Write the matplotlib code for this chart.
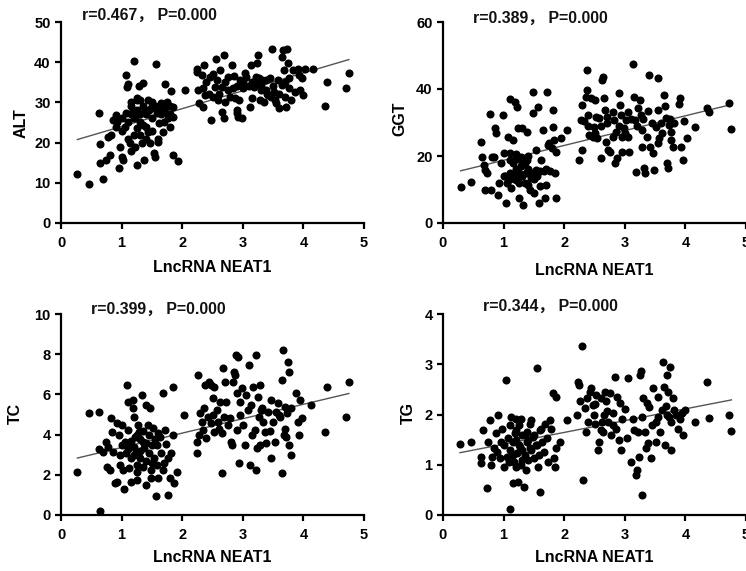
import numpy as np
import matplotlib
matplotlib.use("Agg")
import matplotlib.pyplot as plt

# ---------------- data ----------------
alt_x = [0.27, 0.47, 0.62, 0.65, 0.64, 0.69, 0.74, 0.81, 0.78, 0.82, 0.86, 0.91, 0.93, 0.96, 0.98,
         1.00, 1.03, 1.05, 1.07, 1.09, 1.10, 1.08, 1.10, 1.14, 1.15, 1.16, 1.21, 1.19, 1.22, 1.25,
         1.25, 1.22, 1.26, 1.29, 1.33, 1.36, 1.37, 1.39, 1.41, 1.43, 1.44, 1.47, 1.49, 1.54, 1.55,
         1.57, 1.58, 1.60, 1.62, 1.65, 1.69, 1.71, 1.74, 1.77, 1.80, 1.82, 1.84, 1.84, 1.85, 1.93,
         2.04,
         1.10, 1.15, 1.20, 1.25, 1.30, 1.30, 1.35, 1.40, 1.45, 1.50, 1.55, 1.60, 1.65, 1.70, 1.75,
         1.80, 1.20, 1.30, 1.40, 1.50, 1.60, 1.70, 1.00, 0.90, 1.15, 1.30, 1.50, 1.70, 1.80, 1.35,
         1.25, 1.00,
         2.24, 2.25, 2.26, 2.28, 2.32, 2.35, 2.36, 2.37, 2.40, 2.46, 2.48, 2.51, 2.54, 2.56, 2.58,
         2.59, 2.62, 2.65, 2.66, 2.69, 2.69, 2.70, 2.76, 2.79, 2.83, 2.84, 2.87, 2.90, 2.91, 2.92,
         2.94, 2.95, 2.98, 3.01, 3.03, 3.06, 3.12, 3.13, 3.16, 3.18, 3.21, 3.24, 3.25, 3.27, 3.28,
         3.30, 3.32, 3.35, 3.38, 3.39, 3.42, 3.46, 3.49, 3.51, 3.53, 3.55, 3.58, 3.60, 3.64, 3.65,
         3.66, 3.68, 3.70, 3.71, 3.73, 3.74, 3.76, 3.77, 3.79, 3.83, 3.86, 3.91, 3.93, 3.95, 3.97,
         4.00, 4.02, 4.16, 4.35, 4.39, 4.71, 4.75,
         2.45, 2.60, 2.75, 2.90, 3.00, 3.10, 3.20, 3.30, 3.40, 3.50, 3.60, 3.70, 2.50, 2.70, 3.15,
         3.45, 2.35, 2.85]
alt_y = [12.2, 9.8, 27.4, 19.7, 14.9, 11.0, 15.7, 16.8, 21.5, 21.9, 25.6, 26.9, 25.0, 13.6, 19.0,
         16.5, 15.7, 24.0, 36.8, 33.9, 34.5, 27.3, 21.0, 19.8, 30.2, 17.8, 40.2, 28.1, 26.4, 30.6,
         23.6, 19.0, 14.5, 34.0, 19.8, 34.9, 15.7, 28.1, 24.0, 30.6, 22.7, 19.8, 28.5, 17.4, 16.5,
         39.5, 27.3, 20.2, 24.8, 29.8, 22.7, 34.5, 28.9, 26.0, 24.0, 32.9, 28.9, 16.9, 26.4, 15.5,
         33.2,
         25.0, 27.0, 26.0, 28.0, 27.0, 25.0, 29.0, 27.0, 28.0, 26.0, 29.0, 28.0, 27.0, 29.0, 30.0,
         29.0, 22.0, 22.0, 21.0, 23.0, 21.0, 25.0, 23.0, 24.0, 29.0, 30.5, 30.0, 27.5, 27.0, 24.5,
         31.0, 26.0,
         38.4, 37.6, 33.0, 29.8, 36.8, 28.9, 39.3, 31.8, 35.1, 36.4, 25.6, 31.4, 33.9, 40.9, 35.5,
         30.6, 38.0, 27.7, 33.9, 41.9, 26.0, 35.1, 36.4, 31.4, 39.3, 33.5, 31.0, 28.1, 27.3, 26.4,
         30.6, 35.5, 26.0, 33.5, 37.2, 36.4, 28.9, 39.3, 35.1, 33.9, 36.4, 39.7, 41.7, 36.0, 30.6,
         34.3, 35.5, 30.2, 33.0, 35.5, 31.8, 31.4, 43.4, 32.6, 30.6, 29.8, 35.5, 28.5, 34.3, 41.3,
         43.0, 38.0, 31.4, 28.9, 43.4, 39.7, 33.5, 36.0, 30.6, 38.0, 32.6, 38.4, 36.8, 33.0, 36.0,
         31.8, 38.4, 38.4, 29.0, 35.1, 33.5, 37.4,
         32.0, 32.0, 33.0, 34.0, 35.0, 34.0, 35.0, 33.0, 32.0, 34.0, 32.0, 35.0, 37.0, 30.0, 31.0,
         36.0, 33.5, 36.5]

ggt_x = [0.29, 0.47, 0.63, 0.65, 0.67, 0.69, 0.72, 0.69, 0.77, 0.80, 0.81, 0.84, 0.85, 0.88, 0.91,
         0.93, 0.96, 0.99, 1.00, 1.02, 1.04, 1.05, 1.07, 1.10, 1.10, 1.11, 1.13, 1.15, 1.16, 1.18,
         1.20, 1.21, 1.22, 1.24, 1.26, 1.28, 1.29, 1.31, 1.32, 1.35, 1.37, 1.38, 1.39, 1.40, 1.43,
         1.45, 1.48, 1.49, 1.50, 1.53, 1.54, 1.57, 1.59, 1.60, 1.62, 1.65, 1.66, 1.68, 1.70, 1.72,
         1.73, 1.76, 1.81, 1.82, 1.83, 1.84, 1.86, 1.87, 1.94, 2.05,
         1.10, 1.15, 1.20, 1.25, 1.30, 1.35, 1.40, 1.45, 1.50, 1.55, 1.30, 1.20, 1.40, 1.60, 1.70,
         1.75, 1.80, 1.00, 1.10, 1.25,
         2.25, 2.27, 2.29, 2.30, 2.32, 2.36, 2.37, 2.38, 2.40, 2.41, 2.45, 2.47, 2.49, 2.51, 2.52,
         2.54, 2.58, 2.60, 2.62, 2.64, 2.65, 2.67, 2.69, 2.71, 2.73, 2.75, 2.80, 2.82, 2.84, 2.85,
         2.87, 2.91, 2.92, 2.93, 2.95, 2.96, 2.98, 3.02, 3.06, 3.07, 3.14, 3.15, 3.17, 3.19, 3.22,
         3.25, 3.26, 3.28, 3.29, 3.31, 3.33, 3.36, 3.39, 3.40, 3.42, 3.46, 3.48, 3.51, 3.54, 3.55,
         3.57, 3.61, 3.65, 3.66, 3.68, 3.70, 3.71, 3.73, 3.76, 3.77, 3.79, 3.81, 3.90, 3.91, 3.92,
         3.96, 3.98, 4.02, 4.16, 4.35, 4.39, 4.72, 4.76,
         2.50, 2.60, 2.70, 2.90, 3.00, 3.10, 3.20, 3.30, 3.45, 3.60, 3.75, 2.40, 2.80, 3.05, 3.55]
ggt_y = [10.7, 12.2, 24.3, 19.8, 17.4, 15.9, 14.9, 9.9, 32.4, 9.9, 19.8, 19.8, 28.3, 26.8, 8.4,
         11.9, 17.9, 32.2, 20.8, 13.9, 6.0, 11.9, 25.8, 36.9, 18.8, 14.9, 10.4, 17.9, 24.8, 36.2,
         20.6, 12.9, 34.5, 28.3, 7.4, 16.9, 19.8, 28.3, 5.5, 17.9, 14.9, 27.3, 18.8, 11.4, 9.9,
         13.4, 32.7, 39.2, 8.9, 21.8, 15.9, 34.7, 6.0, 10.9, 18.8, 27.8, 15.4, 7.4, 11.4, 39.2,
         23.3, 15.4, 33.7, 28.8, 24.8, 14.9, 7.4, 21.3, 25.3, 27.8,
         13.0, 14.0, 16.0, 15.0, 14.0, 12.0, 16.0, 15.0, 13.0, 14.0, 18.0, 19.0, 20.0, 15.5, 16.0,
         24.0, 22.5, 14.0, 21.0, 12.0,
         18.8, 30.8, 21.8, 35.2, 30.3, 37.7, 45.6, 39.7, 32.2, 26.3, 37.2, 25.8, 28.8, 36.7, 31.7,
         25.3, 31.2, 19.3, 42.7, 43.7, 37.2, 33.7, 24.3, 31.7, 21.8, 21.3, 25.8, 30.8, 17.9, 27.3,
         19.3, 38.7, 35.2, 32.2, 25.8, 21.3, 28.3, 30.8, 25.8, 21.3, 47.6, 37.7, 30.8, 15.1, 34.2,
         36.7, 32.2, 27.8, 22.8, 16.4, 14.9, 25.8, 33.4, 44.1, 22.8, 20.8, 15.9, 28.8, 43.2, 33.7,
         25.3, 26.8, 38.2, 34.9, 31.2, 17.9, 16.4, 29.3, 27.3, 24.8, 22.8, 29.8, 35.5, 37.2, 22.8,
         18.8, 30.3, 25.3, 28.6, 34.2, 33.2, 35.9, 28.2,
         27.0, 29.0, 30.0, 29.0, 27.0, 31.0, 29.0, 31.0, 30.0, 30.0, 31.0, 29.0, 33.0, 33.0, 24.0]

tc_x = [0.27, 0.46, 0.63, 0.62, 0.64, 0.70, 0.74, 0.76, 0.78, 0.81, 0.82, 0.84, 0.86, 0.89, 0.92,
        0.93, 0.95, 0.97, 0.98, 1.00, 1.02, 1.04, 1.05, 1.07, 1.09, 1.10, 1.11, 1.13, 1.14, 1.15,
        1.16, 1.18, 1.19, 1.20, 1.22, 1.24, 1.25, 1.26, 1.27, 1.29, 1.30, 1.33, 1.35, 1.36, 1.37,
        1.40, 1.41, 1.43, 1.45, 1.47, 1.48, 1.49, 1.52, 1.53, 1.56, 1.58, 1.59, 1.60, 1.63, 1.65,
        1.68, 1.69, 1.71, 1.74, 1.76, 1.77, 1.80, 1.82, 1.84, 1.85, 1.86, 1.92, 2.03,
        1.15, 1.20, 1.25, 1.30, 1.35, 1.40, 1.45, 1.50, 1.55, 1.20, 1.30, 1.40, 1.50, 1.10, 1.00,
        1.60, 1.70, 1.25,
        2.24, 2.25, 2.26, 2.27, 2.29, 2.32, 2.34, 2.36, 2.37, 2.40, 2.43, 2.45, 2.47, 2.48, 2.51,
        2.52, 2.53, 2.57, 2.59, 2.62, 2.65, 2.66, 2.68, 2.69, 2.70, 2.73, 2.79, 2.81, 2.82, 2.84,
        2.85, 2.87, 2.88, 2.90, 2.91, 2.92, 2.94, 2.95, 2.96, 2.98, 3.03, 3.05, 3.09, 3.10, 3.12,
        3.14, 3.17, 3.20, 3.21, 3.22, 3.24, 3.25, 3.27, 3.28, 3.29, 3.31, 3.34, 3.36, 3.38, 3.42,
        3.46, 3.47, 3.50, 3.53, 3.54, 3.58, 3.61, 3.64, 3.65, 3.66, 3.68, 3.69, 3.71, 3.73, 3.75,
        3.76, 3.77, 3.79, 3.80, 3.88, 3.91, 3.93, 3.95, 3.98, 4.13, 4.35, 4.39, 4.71, 4.75,
        2.60, 2.75, 3.00, 3.15, 3.30, 3.45, 2.50, 3.60, 3.70]
tc_y = [2.12, 5.06, 5.14, 3.28, 0.22, 3.15, 3.65, 2.40, 3.40, 2.24, 4.81, 4.15, 3.15, 1.58, 4.56,
        1.66, 3.98, 2.99, 2.49, 4.48, 2.24, 1.29, 3.65, 3.07, 6.47, 5.64, 4.23, 2.32, 3.48, 2.82,
        1.66, 5.31, 5.72, 4.89, 3.90, 3.15, 2.16, 1.74, 4.48, 4.15, 2.82, 5.97, 3.65, 2.40, 3.32,
        5.47, 1.49, 4.48, 3.07, 5.31, 2.24, 1.82, 4.31, 2.82, 0.95, 3.48, 2.49, 1.82, 3.90, 3.07,
        6.05, 2.24, 4.23, 3.52, 1.00, 2.82, 1.82, 3.07, 3.98, 6.38, 1.58, 2.16, 5.00,
        3.70, 3.40, 4.00, 3.80, 4.20, 3.60, 4.00, 3.50, 3.80, 3.00, 3.20, 2.70, 2.60, 3.30, 3.50,
        4.10, 2.60, 2.50,
        3.07, 3.65, 6.97, 3.98, 5.06, 4.64, 4.23, 5.31, 6.47, 3.81, 4.89, 6.63, 4.56, 6.47, 5.80,
        4.15, 6.38, 5.22, 4.64, 5.64, 2.07, 4.06, 7.33, 4.89, 6.63, 5.64, 4.81, 3.65, 3.48, 6.63,
        7.10, 6.97, 7.96, 6.05, 4.23, 7.88, 2.57, 5.64, 4.98, 6.30, 3.48, 5.97, 5.22, 7.46, 2.49,
        5.47, 6.38, 4.23, 7.96, 2.24, 3.32, 5.89, 4.89, 6.47, 3.48, 5.31, 4.64, 4.15, 3.57, 5.14,
        2.82, 5.72, 4.64, 3.65, 5.14, 5.56, 4.89, 6.72, 2.07, 8.21, 3.98, 5.39, 3.90, 5.06, 7.63,
        7.13, 3.48, 2.99, 5.31, 6.05, 4.64, 3.98, 5.72, 4.81, 5.47, 4.15, 6.38, 4.89, 6.63,
        4.30, 4.50, 4.50, 4.00, 5.20, 4.20, 5.00, 5.00, 4.30]

tg_x = [0.28, 0.47, 0.62, 0.63, 0.66, 0.72, 0.74, 0.77, 0.80, 0.81, 0.84, 0.87, 0.89, 0.91, 0.94,
        0.96, 0.98, 1.00, 1.04, 1.05, 1.07, 1.09, 1.10, 1.11, 1.13, 1.15, 1.16, 1.17, 1.18, 1.20,
        1.21, 1.22, 1.24, 1.26, 1.27, 1.28, 1.29, 1.31, 1.33, 1.35, 1.37, 1.38, 1.39, 1.40, 1.43,
        1.44, 1.46, 1.49, 1.50, 1.53, 1.55, 1.57, 1.59, 1.60, 1.62, 1.64, 1.66, 1.68, 1.71, 1.73,
        1.76, 1.79, 1.81, 1.83, 1.84, 1.86, 1.87, 1.93, 2.04,
        1.10, 1.20, 1.25, 1.30, 1.35, 1.40, 1.45, 1.50, 1.55, 1.30, 1.20, 1.00, 1.15, 1.60,
        2.21, 2.23, 2.25, 2.26, 2.29, 2.31, 2.34, 2.36, 2.38, 2.40, 2.42, 2.45, 2.47, 2.49, 2.51,
        2.53, 2.56, 2.58, 2.60, 2.62, 2.64, 2.67, 2.69, 2.70, 2.73, 2.75, 2.78, 2.81, 2.84, 2.85,
        2.87, 2.91, 2.92, 2.93, 2.95, 3.03, 3.06, 3.11, 3.13, 3.15, 3.18, 3.20, 3.22, 3.24, 3.25,
        3.26, 3.28, 3.29, 3.30, 3.33, 3.35, 3.37, 3.39, 3.44, 3.47, 3.51, 3.52, 3.55, 3.58, 3.61,
        3.63, 3.65, 3.66, 3.68, 3.69, 3.72, 3.73, 3.74, 3.76, 3.77, 3.79, 3.81, 3.88, 3.91, 3.94,
        3.96, 4.00, 4.16, 4.35, 4.39, 4.72, 4.76,
        2.50, 2.65, 2.80, 3.00, 3.40, 3.45, 3.55, 3.70, 3.85, 2.60]
tg_y = [1.41, 1.46, 1.16, 1.03, 1.69, 0.54, 1.46, 1.89, 1.00, 1.16, 1.33, 1.63, 1.26, 2.00, 1.13,
        1.46, 1.72, 0.96, 2.69, 1.16, 1.53, 1.06, 1.79, 0.12, 1.96, 0.63, 1.46, 1.06, 1.63, 1.92,
        0.96, 1.23, 0.66, 1.79, 1.36, 1.00, 1.92, 1.59, 0.56, 1.19, 0.90, 1.66, 1.46, 1.09, 1.82,
        1.33, 1.89, 1.56, 1.13, 1.39, 2.92, 0.96, 1.19, 0.45, 1.72, 1.46, 1.26, 1.82, 1.53, 1.06,
        1.89, 1.72, 2.42, 1.13, 0.96, 2.35, 1.33, 1.46, 1.89,
        1.30, 1.50, 1.40, 1.30, 1.60, 1.50, 1.30, 1.60, 1.40, 1.10, 1.70, 1.40, 1.20, 1.70,
        1.99, 2.65, 2.59, 2.26, 3.36, 0.70, 2.12, 1.66, 2.32, 1.86, 2.45, 2.52, 2.19, 1.99, 1.82,
        2.39, 1.29, 1.46, 2.32, 1.86, 1.66, 2.45, 2.26, 2.06, 1.86, 2.42, 1.59, 2.02, 2.75, 1.72,
        2.35, 1.49, 2.22, 1.29, 1.92, 1.53, 2.72, 1.06, 1.92, 1.69, 0.80, 0.90, 1.66, 1.16, 2.79,
        2.87, 0.40, 1.96, 2.32, 1.66, 1.33, 2.22, 1.43, 1.13, 2.52, 1.46, 1.86, 2.35, 1.66, 2.09,
        3.05, 2.55, 1.39, 2.16, 2.79, 2.45, 1.96, 2.95, 1.29, 1.86, 2.32, 2.09, 1.72, 1.92, 2.02,
        1.59, 2.09, 1.86, 2.65, 1.94, 1.99, 1.67,
        2.20, 2.00, 1.80, 2.10, 2.15, 1.80, 1.95, 2.00, 2.00, 1.70]

panel_names = ["ALT", "GGT", "TC", "TG"]
panel_x = [alt_x, ggt_x, tc_x, tg_x]
panel_y = [alt_y, ggt_y, tc_y, tg_y]
panel_r = ["0.467", "0.389", "0.399", "0.344"]
panel_p = ["0.000", "0.000", "0.000", "0.000"]
panel_ymax = [50, 60, 10, 4]
panel_ystep = [10, 20, 2, 1]
x_label = "LncRNA NEAT1"

# ---------------- figure ----------------
W, H = 746, 571
fig = plt.figure(figsize=(W / 100, H / 100), dpi=100)
fig.patch.set_facecolor("white")

# axes boxes in pixel units: left, top, right, bottom
boxes = [(61, 22, 364, 223), (443, 22, 746, 223),
         (61, 314, 364, 515), (443, 314, 746, 515)]
stat_pos = [(0.069, 1.032), (0.099, 1.018), (0.099, 1.025), (0.132, 1.04)]
ylab_pos = [(-0.106, 0.495), (-0.116, 0.52), (-0.125, 0.507), (-0.089, 0.505)]
xlab_pos = [(0.5, -0.185), (0.5, -0.198), (0.5, -0.174), (0.5, -0.174)]

latin = ["Liberation Sans", "Noto Sans CJK SC", "DejaVu Sans"]

for i in range(4):
    l, t, r, b = boxes[i]
    ax = fig.add_axes([l / W, 1 - b / H, (r - l) / W, (b - t) / H])
    x = np.asarray(panel_x[i])
    y = np.asarray(panel_y[i])

    ax.plot(x, y, "o", color="black", markersize=5.8, markeredgewidth=0, zorder=3)

    slope, intercept = np.polyfit(x, y, 1)
    xs = np.array([x.min(), x.max()])
    ax.plot(xs, slope * xs + intercept, color="#555555", linewidth=1.0, zorder=2)

    ax.set_xlim(0, 5)
    ax.set_ylim(0, panel_ymax[i])
    ax.set_xticks(np.arange(0, 6, 1))
    ax.set_yticks(np.arange(0, panel_ymax[i] + 0.001, panel_ystep[i]))

    for side in ("top", "right"):
        ax.spines[side].set_visible(False)
    for side in ("left", "bottom"):
        ax.spines[side].set_linewidth(1.6)
        ax.spines[side].set_color("black")
    ax.tick_params(direction="out", length=4.5, width=1.6, labelsize=10.5)
    ax.tick_params(axis="x", pad=5)
    ax.tick_params(axis="y", pad=3)
    for lab in ax.get_xticklabels() + ax.get_yticklabels():
        lab.set_fontfamily(latin)
        lab.set_fontweight("bold")

    ax.set_xlabel(x_label, fontsize=11.5, fontweight="bold", family=latin)
    ax.set_ylabel(panel_names[i], fontsize=11.5, fontweight="bold", family=latin)
    ax.xaxis.set_label_coords(*xlab_pos[i])
    ax.yaxis.set_label_coords(*ylab_pos[i])

    sx, sy = stat_pos[i]
    ax.text(sx, sy, f"r={panel_r[i]}， P={panel_p[i]}", transform=ax.transAxes,
            ha="left", va="center", fontsize=11.4, fontweight="bold",
            family=latin, color="#111111", clip_on=False)

fig.savefig("out.png", dpi=100)
